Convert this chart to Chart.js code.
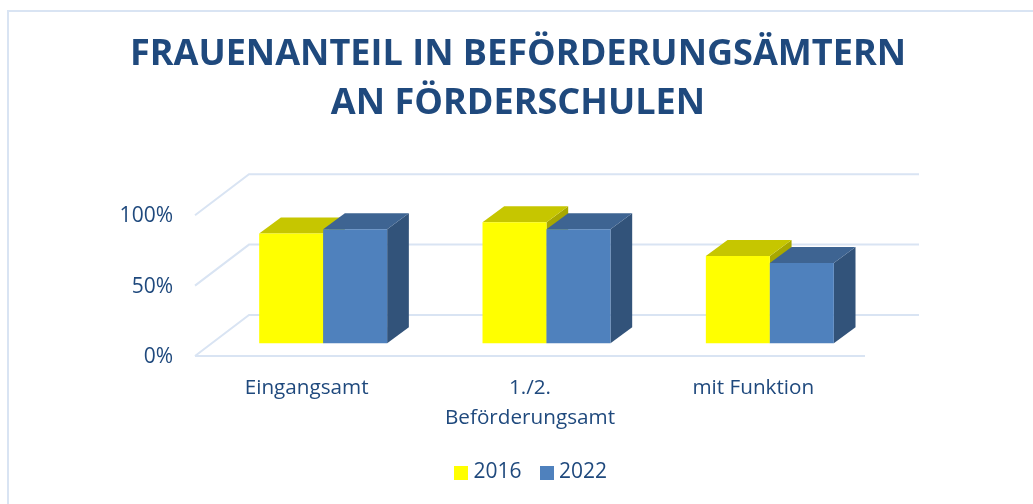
<!DOCTYPE html>
<html lang="de"><head><meta charset="utf-8">
<style>html,body{margin:0;padding:0;background:#fff}canvas{display:block}</style>
<script src="https://cdn.jsdelivr.net/npm/chart.js@4"></script></head>
<body><canvas id="c" width="1033" height="504"></canvas>
<script>
const categories = ['Eingangsamt', ['1./2.', 'Beförderungsamt'], 'mit Funktion'];
const values2016 = [78, 86, 62];
const values2022 = [81, 81, 57];
const yTicks = [0, 50, 100];
const TEXT = '#1F497D', GRID = '#D9E4F3';
const FONT = '"Open Sans", sans-serif';
const FLOOR = {x: 54, y: 41};      // wall/floor depth
const DEPTH = {x: 21.7, y: 16};    // bar depth
const SHIFT = {x: 16.5, y: 12.7};  // bar offset from the front edge
const shades = [{top: '#C6C600', side: '#A8A800'}, {top: '#3E6492', side: '#32537A'}];

function swatch(color) {
  const s = document.createElement('canvas'); s.width = s.height = 14;
  const g = s.getContext('2d'); g.fillStyle = color; g.fillRect(0, 0, 14, 14);
  return s;
}
function poly(ctx, color, pts) {
  ctx.fillStyle = color; ctx.beginPath();
  pts.forEach((p, i) => i ? ctx.lineTo(p[0], p[1]) : ctx.moveTo(p[0], p[1]));
  ctx.closePath(); ctx.fill();
}
const scene = {
  id: 'scene',
  afterLayout(chart) { chart.legend.left += 3; chart.legend.right += 3; chart.legend.top -= 1; chart.legend.bottom -= 1; },
  beforeDraw(chart) {
    const c = chart.ctx;
    c.save(); c.strokeStyle = GRID; c.lineWidth = 2;
    c.beginPath(); c.moveTo(8, 504); c.lineTo(8, 11); c.lineTo(1033, 11); c.stroke(); c.restore();
  },
  beforeDatasetsDraw(chart) {
    const c = chart.ctx, a = chart.chartArea, y = chart.scales.y;
    c.save(); c.strokeStyle = GRID; c.lineWidth = 2;
    yTicks.forEach(v => {
      const p = y.getPixelForValue(v);
      c.beginPath(); c.moveTo(a.left, p); c.lineTo(a.left + FLOOR.x, p - FLOOR.y);
      c.lineTo(a.right + FLOOR.x, p - FLOOR.y); c.stroke();
    });
    c.beginPath(); c.moveTo(a.left, a.bottom); c.lineTo(a.right, a.bottom); c.stroke();
    c.restore();
    // first series first, so the second one overlaps it as in a 3-D column chart
    chart.data.datasets.forEach((d, i) => {
      const meta = chart.getDatasetMeta(i), s = shades[i];
      c.save(); c.translate(SHIFT.x, -SHIFT.y);
      meta.data.forEach(b => {
        const l = b.x - b.width / 2, r = b.x + b.width / 2, t = b.y, m = b.base;
        poly(c, s.side, [[r, t], [r + DEPTH.x, t - DEPTH.y], [r + DEPTH.x, m - DEPTH.y], [r, m]]);
        poly(c, s.top, [[l, t], [l + DEPTH.x, t - DEPTH.y], [r + DEPTH.x, t - DEPTH.y], [r, t]]);
      });
      meta.controller.draw();
      c.restore();
    });
    return false;
  }
};
new Chart(document.getElementById('c'), {
  type: 'bar',
  data: { labels: categories, datasets: [
    { label: '2016', data: values2016, backgroundColor: '#FFFF00' },
    { label: '2022', data: values2022, backgroundColor: '#4F81BD' }
  ]},
  plugins: [scene],
  options: {
    responsive: false, animation: false,
    categoryPercentage: 0.573, barPercentage: 1,
    layout: { padding: { left: 3, right: 0, top: 30, bottom: 10 } },
    scales: {
      x: { offset: true, grid: { display: false }, border: { display: false },
        ticks: { color: TEXT, font: { family: FONT, size: 20.7, lineHeight: 1.44 }, padding: 9.5, maxRotation: 0, autoSkip: false },
        afterFit(s) { s.height = 84; } },
      y: { min: 0, max: 100, grid: { display: false }, border: { display: false },
        ticks: { color: TEXT, font: { family: FONT, size: 21 }, padding: 14, stepSize: 50, labelOffset: 1, callback: v => v + '%' },
        afterFit(s) { s.width = 192; } },
      r: { position: 'right', display: true, grid: { display: false }, border: { display: false },
        ticks: { display: false }, afterFit(s) { s.width = 168; } }
    },
    plugins: {
      tooltip: { enabled: false },
      title: { display: true, text: ['FRAUENANTEIL IN BEFÖRDERUNGSÄMTERN', 'AN FÖRDERSCHULEN'],
        color: TEXT, font: { family: FONT, size: 36.1, weight: 'bold', lineHeight: 1.36 }, padding: { top: 0, bottom: 87 } },
      legend: { position: 'bottom', fullSize: false,
        labels: { color: TEXT, font: { family: FONT, size: 21 }, padding: 23, usePointStyle: true, pointStyleWidth: 4,
          generateLabels(chart) {
            return Chart.defaults.plugins.legend.labels.generateLabels(chart).map((it, i) => {
              it.pointStyle = swatch(chart.data.datasets[i].backgroundColor); return it;
            });
          } } }
    }
  }
});
</script></body></html>
